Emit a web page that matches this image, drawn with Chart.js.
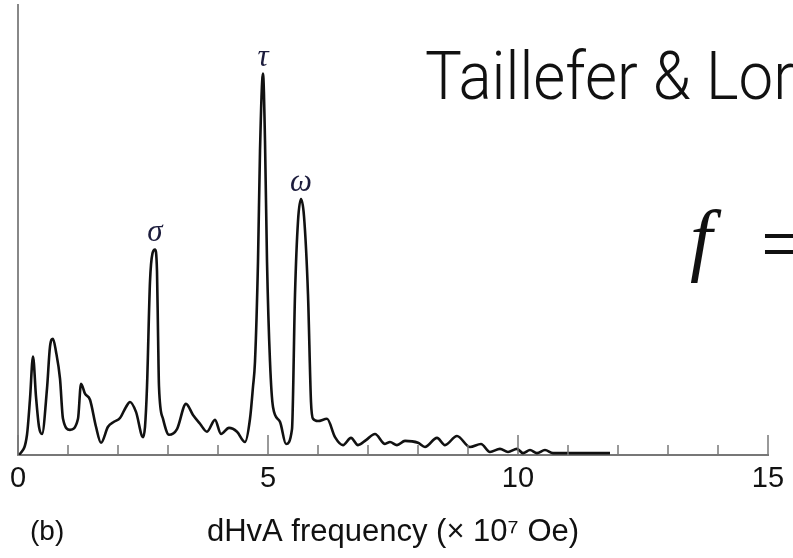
<!DOCTYPE html>
<html>
<head>
<meta charset="utf-8">
<script src="https://cdn.jsdelivr.net/npm/chart.js@4.4.1/dist/chart.umd.min.js"></script>
<style>
  html, body { margin: 0; padding: 0; background: #fff; overflow: hidden; }
  #wrap { position: relative; width: 793px; height: 558px; }
  #plot { position: absolute; left: 0; top: 0; }
  .txt { position: absolute; white-space: nowrap; line-height: 1; color: #111; }
  #heading { left: 425px; top: 44px; font-family: Roboto, "Liberation Sans", sans-serif; font-weight: 300;
             font-size: 61.8px; transform-origin: left top; transform: scaleY(1.07); }
  #fvar { left: 690px; top: 199px; font-family: "Liberation Serif", serif; font-style: italic; font-size: 80px; }
  #feq { left: 761px; top: 204px; font-family: "Liberation Serif", serif; font-size: 80px; }
  #panel { left: 30px; top: 517px; font-family: "Liberation Sans", Arial, sans-serif; font-size: 28px; }
</style>
</head>
<body>
<div id="wrap">
  <canvas id="plot" width="793" height="558"></canvas>
  <div class="txt" id="heading">Taillefer &amp; Lor</div>
  <div class="txt" id="fvar">f</div>
  <div class="txt" id="feq">=</div>
  <div class="txt" id="panel">(b)</div>
</div>
<script>
/* dHvA frequency spectrum (arbitrary amplitude, tau peak = 100) */
const freqs = [0, 0.04, 0.18, 0.24, 0.30, 0.36, 0.42, 0.48, 0.58, 0.64,
    0.70, 0.76, 0.84, 0.90, 1.04, 1.20, 1.26, 1.34, 1.44, 1.56,
    1.66, 1.80, 1.92, 2.04, 2.16, 2.24, 2.36, 2.50, 2.54, 2.58,
    2.64, 2.69, 2.74, 2.78, 2.80, 2.82, 2.90, 3.02, 3.18, 3.36,
    3.50, 3.64, 3.78, 3.94, 4.06, 4.22, 4.38, 4.54, 4.64, 4.70,
    4.74, 4.80, 4.84, 4.90, 4.94, 4.98, 5.04, 5.10, 5.24, 5.36,
    5.48, 5.54, 5.60, 5.66, 5.72, 5.80, 5.86, 5.90, 6.00, 6.18,
    6.34, 6.50, 6.66, 6.80, 6.96, 7.14, 7.34, 7.44, 7.58, 7.74,
    8.00, 8.14, 8.38, 8.54, 8.78, 9.04, 9.26, 9.44, 9.64, 9.80,
    9.98, 10.10, 10.24, 10.38, 10.54, 10.70, 11.24, 11.84];
const amps = [0, 0.3, 5.3, 14.7, 25.8, 15.3, 7.4, 5.5, 17.4, 28.4,
    30.5, 27.1, 20.0, 9.5, 6.6, 9.5, 18.7, 16.1, 14.5, 7.4,
    3.2, 7.4, 8.7, 9.7, 12.6, 13.9, 11.3, 4.7, 7.4, 17.9,
    45.5, 52.9, 53.9, 48.2, 32.4, 17.9, 9.5, 5.3, 6.8, 13.4,
    10.5, 8.2, 6.1, 9.2, 5.5, 7.1, 6.1, 3.4, 9.5, 17.9,
    24.5, 50.8, 79.7, 100, 82.4, 50.8, 24.5, 12.6, 8.7, 2.9,
    6.8, 42.1, 61.3, 67.1, 62.6, 42.1, 13.9, 9.5, 8.9, 9.5,
    4.7, 2.6, 4.5, 2.6, 3.9, 5.5, 2.9, 3.4, 2.6, 3.7,
    3.2, 2.1, 4.5, 2.6, 5.0, 2.1, 2.9, 0.8, 1.6, 0.8,
    1.6, 0.5, 1.3, 0.5, 1.3, 0.5, 0.5, 0.5];

const xLabelled = [0, 5, 10, 15];
const peakNames = ["σ", "τ", "ω"];
const peakFreqs = [2.74, 4.90, 5.66];

// inward tick marks + greek peak labels
const innerTicks = {
    id: "innerTicks",
    afterDatasetsDraw(chart) {
        const { ctx, scales: { x, y } } = chart;
        const base = y.getPixelForValue(0);
        ctx.save();
        ctx.strokeStyle = "#777";
        ctx.lineWidth = 1.5;
        for (const t of x.ticks) {
            const px = x.getPixelForValue(t.value);
            const len = xLabelled.includes(t.value) ? 20 : 10;
            ctx.beginPath();
            ctx.moveTo(px, base);
            ctx.lineTo(px, base - len);
            ctx.stroke();
        }
        ctx.fillStyle = "#1c1c3c";
        ctx.font = 'italic 31px "Liberation Serif", serif';
        ctx.textAlign = "center";
        ctx.textBaseline = "alphabetic";
        peakNames.forEach((name, i) => {
            const k = freqs.indexOf(peakFreqs[i]);
            ctx.fillText(name, x.getPixelForValue(freqs[k]), y.getPixelForValue(amps[k]) - 8);
        });
        ctx.restore();
    }
};

const points = freqs.map((f, i) => ({ x: f, y: amps[i] }));

new Chart(document.getElementById("plot"), {
    type: "line",
    data: {
        datasets: [{
            data: points,
            borderColor: "#111",
            borderWidth: 2.6,
            pointRadius: 0,
            cubicInterpolationMode: "monotone",
            fill: false
        }]
    },
    options: {
        responsive: false,
        animation: false,
        events: [],
        layout: { padding: { left: 18, right: 25, top: 5, bottom: 4 } },
        plugins: { legend: { display: false }, tooltip: { enabled: false } },
        scales: {
            x: {
                type: "linear",
                min: 0,
                max: 15,
                grid: { display: false, drawTicks: false },
                border: { display: true, color: "#777", width: 2 },
                ticks: {
                    stepSize: 1,
                    autoSkip: false,
                    maxRotation: 0,
                    padding: 7,
                    color: "#111",
                    font: { family: '"Liberation Sans", Arial, sans-serif', size: 29 },
                    callback: v => xLabelled.includes(v) ? String(v) : ""
                },
                title: {
                    display: true,
                    text: "dHvA frequency (× 10⁷ Oe)",
                    color: "#111",
                    font: { family: '"Liberation Sans", Arial, sans-serif', size: 31 },
                    padding: { top: 10, bottom: 3 }
                }
            },
            y: {
                min: 0,
                max: 118,
                grid: { display: false, drawTicks: false },
                border: { display: true, color: "#888", width: 2 },
                ticks: { display: false }
            }
        }
    },
    plugins: [innerTicks]
});
</script>
</body>
</html>
